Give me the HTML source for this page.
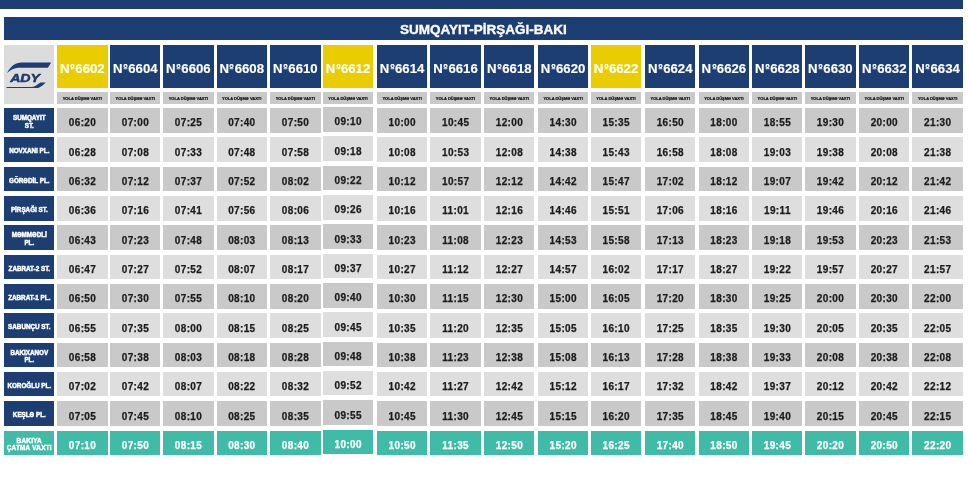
<!DOCTYPE html>
<html><head><meta charset="utf-8">
<style>
html,body{margin:0;padding:0;background:#fff;}
body{will-change:transform;width:969px;height:481px;position:relative;overflow:hidden;font-family:"Liberation Sans",sans-serif;font-weight:bold;}
.c{position:absolute;display:flex;align-items:center;justify-content:center;text-align:center;box-sizing:border-box;white-space:nowrap;}
.hd{color:#fff;font-size:13.2px;letter-spacing:0px;padding-top:4.6px;-webkit-text-stroke:0.15px #fff;}
.no{display:inline-block;position:relative;top:-1.8px;margin:0 0.3px 0 0.4px;}
.sh{background:#c9c9c9;color:#111;font-size:4px;-webkit-text-stroke:0.2px #111;}
.st{background:#1d3e72;color:#fff;font-size:6.3px;line-height:7.8px;letter-spacing:0px;padding-top:3px;-webkit-text-stroke:0.45px #fff;}
.st span{display:inline-block;transform:scaleX(1.0);}
.t{color:#1b1b1b;font-size:10px;letter-spacing:0.35px;text-indent:0.3px;-webkit-text-stroke:0.25px #1b1b1b;}
</style></head><body>

<div class="c" style="left:0;top:0;width:963px;height:8.7px;background:#1d3e72"></div>
<div class="c" style="left:4px;top:17px;width:958.8px;height:23.4px;background:#1d3e72;color:#fff;font-size:13.5px;padding-top:1px;-webkit-text-stroke:0.35px #fff">SUMQAYIT-PİRŞAĞI-BAKI</div>
<div class="c" style="left:4.1px;top:45px;width:50.4px;height:59.2px;background:#dcdcdc"></div>
<svg style="position:absolute;left:0;top:0" width="60" height="110" viewBox="0 0 60 110"><path fill="#1d3e72" d="M7.1 73 C9 69 13 63 21 62.4 L51.2 62.4 L47.9 67.8 L18 67.8 C13 68.5 9 71 7.1 73 Z"/><path fill="#1d3e72" d="M6.6 87.1 L32 87.1 C35 86.7 38 84 40.5 82.4 L45.8 82.4 C43 85 40 88 36 88.1 L6.6 88.1 Z"/><text x="10.2" y="82" font-family="Liberation Sans" font-weight="bold" font-style="italic" font-size="11" textLength="29.8" lengthAdjust="spacingAndGlyphs" fill="#1d3e72" stroke="#1a3060" stroke-width="0.45">ADY</text></svg>
<div class="c hd" style="left:57.2px;top:45px;width:50.4px;height:43.4px;background:#e9cd00">N<svg class="no" width="5" height="6" viewBox="0 0 5 6"><circle cx="2.5" cy="2" r="1.5" fill="none" stroke="#fff" stroke-width="1.25"/><rect x="0.6" y="4.3" width="3.8" height="0.9" fill="#fff"/></svg>6602</div>
<div class="c sh" style="left:57.2px;top:92px;width:50.4px;height:12px">YOLA DÜŞMƏ VAXTI</div>
<div class="c hd" style="left:110.1px;top:45px;width:50.4px;height:43.4px;background:#1d3e72">N<svg class="no" width="5" height="6" viewBox="0 0 5 6"><circle cx="2.5" cy="2" r="1.5" fill="none" stroke="#fff" stroke-width="1.25"/><rect x="0.6" y="4.3" width="3.8" height="0.9" fill="#fff"/></svg>6604</div>
<div class="c sh" style="left:110.1px;top:92px;width:50.4px;height:12px">YOLA DÜŞMƏ VAXTI</div>
<div class="c hd" style="left:163.2px;top:45px;width:50.4px;height:43.4px;background:#1d3e72">N<svg class="no" width="5" height="6" viewBox="0 0 5 6"><circle cx="2.5" cy="2" r="1.5" fill="none" stroke="#fff" stroke-width="1.25"/><rect x="0.6" y="4.3" width="3.8" height="0.9" fill="#fff"/></svg>6606</div>
<div class="c sh" style="left:163.2px;top:92px;width:50.4px;height:12px">YOLA DÜŞMƏ VAXTI</div>
<div class="c hd" style="left:216.5px;top:45px;width:50.4px;height:43.4px;background:#1d3e72">N<svg class="no" width="5" height="6" viewBox="0 0 5 6"><circle cx="2.5" cy="2" r="1.5" fill="none" stroke="#fff" stroke-width="1.25"/><rect x="0.6" y="4.3" width="3.8" height="0.9" fill="#fff"/></svg>6608</div>
<div class="c sh" style="left:216.5px;top:92px;width:50.4px;height:12px">YOLA DÜŞMƏ VAXTI</div>
<div class="c hd" style="left:270.2px;top:45px;width:50.4px;height:43.4px;background:#1d3e72">N<svg class="no" width="5" height="6" viewBox="0 0 5 6"><circle cx="2.5" cy="2" r="1.5" fill="none" stroke="#fff" stroke-width="1.25"/><rect x="0.6" y="4.3" width="3.8" height="0.9" fill="#fff"/></svg>6610</div>
<div class="c sh" style="left:270.2px;top:92px;width:50.4px;height:12px">YOLA DÜŞMƏ VAXTI</div>
<div class="c hd" style="left:322.8px;top:45px;width:50.4px;height:43.4px;background:#e9cd00">N<svg class="no" width="5" height="6" viewBox="0 0 5 6"><circle cx="2.5" cy="2" r="1.5" fill="none" stroke="#fff" stroke-width="1.25"/><rect x="0.6" y="4.3" width="3.8" height="0.9" fill="#fff"/></svg>6612</div>
<div class="c sh" style="left:322.8px;top:92px;width:50.4px;height:12px">YOLA DÜŞMƏ VAXTI</div>
<div class="c hd" style="left:376.9px;top:45px;width:50.4px;height:43.4px;background:#1d3e72">N<svg class="no" width="5" height="6" viewBox="0 0 5 6"><circle cx="2.5" cy="2" r="1.5" fill="none" stroke="#fff" stroke-width="1.25"/><rect x="0.6" y="4.3" width="3.8" height="0.9" fill="#fff"/></svg>6614</div>
<div class="c sh" style="left:376.9px;top:92px;width:50.4px;height:12px">YOLA DÜŞMƏ VAXTI</div>
<div class="c hd" style="left:430.3px;top:45px;width:50.4px;height:43.4px;background:#1d3e72">N<svg class="no" width="5" height="6" viewBox="0 0 5 6"><circle cx="2.5" cy="2" r="1.5" fill="none" stroke="#fff" stroke-width="1.25"/><rect x="0.6" y="4.3" width="3.8" height="0.9" fill="#fff"/></svg>6616</div>
<div class="c sh" style="left:430.3px;top:92px;width:50.4px;height:12px">YOLA DÜŞMƏ VAXTI</div>
<div class="c hd" style="left:484.1px;top:45px;width:50.4px;height:43.4px;background:#1d3e72">N<svg class="no" width="5" height="6" viewBox="0 0 5 6"><circle cx="2.5" cy="2" r="1.5" fill="none" stroke="#fff" stroke-width="1.25"/><rect x="0.6" y="4.3" width="3.8" height="0.9" fill="#fff"/></svg>6618</div>
<div class="c sh" style="left:484.1px;top:92px;width:50.4px;height:12px">YOLA DÜŞMƏ VAXTI</div>
<div class="c hd" style="left:537.9px;top:45px;width:50.4px;height:43.4px;background:#1d3e72">N<svg class="no" width="5" height="6" viewBox="0 0 5 6"><circle cx="2.5" cy="2" r="1.5" fill="none" stroke="#fff" stroke-width="1.25"/><rect x="0.6" y="4.3" width="3.8" height="0.9" fill="#fff"/></svg>6620</div>
<div class="c sh" style="left:537.9px;top:92px;width:50.4px;height:12px">YOLA DÜŞMƏ VAXTI</div>
<div class="c hd" style="left:590.8px;top:45px;width:50.4px;height:43.4px;background:#e9cd00">N<svg class="no" width="5" height="6" viewBox="0 0 5 6"><circle cx="2.5" cy="2" r="1.5" fill="none" stroke="#fff" stroke-width="1.25"/><rect x="0.6" y="4.3" width="3.8" height="0.9" fill="#fff"/></svg>6622</div>
<div class="c sh" style="left:590.8px;top:92px;width:50.4px;height:12px">YOLA DÜŞMƏ VAXTI</div>
<div class="c hd" style="left:645px;top:45px;width:50.4px;height:43.4px;background:#1d3e72">N<svg class="no" width="5" height="6" viewBox="0 0 5 6"><circle cx="2.5" cy="2" r="1.5" fill="none" stroke="#fff" stroke-width="1.25"/><rect x="0.6" y="4.3" width="3.8" height="0.9" fill="#fff"/></svg>6624</div>
<div class="c sh" style="left:645px;top:92px;width:50.4px;height:12px">YOLA DÜŞMƏ VAXTI</div>
<div class="c hd" style="left:698.7px;top:45px;width:50.4px;height:43.4px;background:#1d3e72">N<svg class="no" width="5" height="6" viewBox="0 0 5 6"><circle cx="2.5" cy="2" r="1.5" fill="none" stroke="#fff" stroke-width="1.25"/><rect x="0.6" y="4.3" width="3.8" height="0.9" fill="#fff"/></svg>6626</div>
<div class="c sh" style="left:698.7px;top:92px;width:50.4px;height:12px">YOLA DÜŞMƏ VAXTI</div>
<div class="c hd" style="left:752.1px;top:45px;width:50.4px;height:43.4px;background:#1d3e72">N<svg class="no" width="5" height="6" viewBox="0 0 5 6"><circle cx="2.5" cy="2" r="1.5" fill="none" stroke="#fff" stroke-width="1.25"/><rect x="0.6" y="4.3" width="3.8" height="0.9" fill="#fff"/></svg>6628</div>
<div class="c sh" style="left:752.1px;top:92px;width:50.4px;height:12px">YOLA DÜŞMƏ VAXTI</div>
<div class="c hd" style="left:805.2px;top:45px;width:50.4px;height:43.4px;background:#1d3e72">N<svg class="no" width="5" height="6" viewBox="0 0 5 6"><circle cx="2.5" cy="2" r="1.5" fill="none" stroke="#fff" stroke-width="1.25"/><rect x="0.6" y="4.3" width="3.8" height="0.9" fill="#fff"/></svg>6630</div>
<div class="c sh" style="left:805.2px;top:92px;width:50.4px;height:12px">YOLA DÜŞMƏ VAXTI</div>
<div class="c hd" style="left:859px;top:45px;width:50.4px;height:43.4px;background:#1d3e72">N<svg class="no" width="5" height="6" viewBox="0 0 5 6"><circle cx="2.5" cy="2" r="1.5" fill="none" stroke="#fff" stroke-width="1.25"/><rect x="0.6" y="4.3" width="3.8" height="0.9" fill="#fff"/></svg>6632</div>
<div class="c sh" style="left:859px;top:92px;width:50.4px;height:12px">YOLA DÜŞMƏ VAXTI</div>
<div class="c hd" style="left:912.4px;top:45px;width:50.4px;height:43.4px;background:#1d3e72">N<svg class="no" width="5" height="6" viewBox="0 0 5 6"><circle cx="2.5" cy="2" r="1.5" fill="none" stroke="#fff" stroke-width="1.25"/><rect x="0.6" y="4.3" width="3.8" height="0.9" fill="#fff"/></svg>6634</div>
<div class="c sh" style="left:912.4px;top:92px;width:50.4px;height:12px">YOLA DÜŞMƏ VAXTI</div>
<div class="c st" style="left:4.1px;top:108.1px;width:50.4px;height:24.5px;background:#1d3e72"><span>SUMQAYIT<br>ST.</span></div>
<div class="c t" style="left:57.2px;top:108.1px;width:50.4px;height:24.5px;padding-top:4px;background:#c9c9c9">06:20</div>
<div class="c t" style="left:110.1px;top:108.1px;width:50.4px;height:24.5px;padding-top:4px;background:#c9c9c9">07:00</div>
<div class="c t" style="left:163.2px;top:108.1px;width:50.4px;height:24.5px;padding-top:4px;background:#c9c9c9">07:25</div>
<div class="c t" style="left:216.5px;top:108.1px;width:50.4px;height:24.5px;padding-top:4px;background:#c9c9c9">07:40</div>
<div class="c t" style="left:270.2px;top:108.1px;width:50.4px;height:24.5px;padding-top:4px;background:#c9c9c9">07:50</div>
<div class="c t" style="left:322.8px;top:107.1px;width:50.4px;height:24.5px;padding-top:4px;background:#c9c9c9">09:10</div>
<div class="c t" style="left:376.9px;top:108.1px;width:50.4px;height:24.5px;padding-top:4px;background:#c9c9c9">10:00</div>
<div class="c t" style="left:430.3px;top:108.1px;width:50.4px;height:24.5px;padding-top:4px;background:#c9c9c9">10:45</div>
<div class="c t" style="left:484.1px;top:108.1px;width:50.4px;height:24.5px;padding-top:4px;background:#c9c9c9">12:00</div>
<div class="c t" style="left:537.9px;top:108.1px;width:50.4px;height:24.5px;padding-top:4px;background:#c9c9c9">14:30</div>
<div class="c t" style="left:590.8px;top:108.1px;width:50.4px;height:24.5px;padding-top:4px;background:#c9c9c9">15:35</div>
<div class="c t" style="left:645px;top:108.1px;width:50.4px;height:24.5px;padding-top:4px;background:#c9c9c9">16:50</div>
<div class="c t" style="left:698.7px;top:108.1px;width:50.4px;height:24.5px;padding-top:4px;background:#c9c9c9">18:00</div>
<div class="c t" style="left:752.1px;top:108.1px;width:50.4px;height:24.5px;padding-top:4px;background:#c9c9c9">18:55</div>
<div class="c t" style="left:805.2px;top:108.1px;width:50.4px;height:24.5px;padding-top:4px;background:#c9c9c9">19:30</div>
<div class="c t" style="left:859px;top:108.1px;width:50.4px;height:24.5px;padding-top:4px;background:#c9c9c9">20:00</div>
<div class="c t" style="left:912.4px;top:108.1px;width:50.4px;height:24.5px;padding-top:4px;background:#c9c9c9">21:30</div>
<div class="c st" style="left:4.1px;top:137.42px;width:50.4px;height:24.5px;background:#1d3e72"><span>NOVXANI PL.</span></div>
<div class="c t" style="left:57.2px;top:137.42px;width:50.4px;height:24.5px;padding-top:5px;background:#dedede">06:28</div>
<div class="c t" style="left:110.1px;top:137.42px;width:50.4px;height:24.5px;padding-top:5px;background:#dedede">07:08</div>
<div class="c t" style="left:163.2px;top:137.42px;width:50.4px;height:24.5px;padding-top:5px;background:#dedede">07:33</div>
<div class="c t" style="left:216.5px;top:137.42px;width:50.4px;height:24.5px;padding-top:5px;background:#dedede">07:48</div>
<div class="c t" style="left:270.2px;top:137.42px;width:50.4px;height:24.5px;padding-top:5px;background:#dedede">07:58</div>
<div class="c t" style="left:322.8px;top:136.42px;width:50.4px;height:24.5px;padding-top:5px;background:#dedede">09:18</div>
<div class="c t" style="left:376.9px;top:137.42px;width:50.4px;height:24.5px;padding-top:5px;background:#dedede">10:08</div>
<div class="c t" style="left:430.3px;top:137.42px;width:50.4px;height:24.5px;padding-top:5px;background:#dedede">10:53</div>
<div class="c t" style="left:484.1px;top:137.42px;width:50.4px;height:24.5px;padding-top:5px;background:#dedede">12:08</div>
<div class="c t" style="left:537.9px;top:137.42px;width:50.4px;height:24.5px;padding-top:5px;background:#dedede">14:38</div>
<div class="c t" style="left:590.8px;top:137.42px;width:50.4px;height:24.5px;padding-top:5px;background:#dedede">15:43</div>
<div class="c t" style="left:645px;top:137.42px;width:50.4px;height:24.5px;padding-top:5px;background:#dedede">16:58</div>
<div class="c t" style="left:698.7px;top:137.42px;width:50.4px;height:24.5px;padding-top:5px;background:#dedede">18:08</div>
<div class="c t" style="left:752.1px;top:137.42px;width:50.4px;height:24.5px;padding-top:5px;background:#dedede">19:03</div>
<div class="c t" style="left:805.2px;top:137.42px;width:50.4px;height:24.5px;padding-top:5px;background:#dedede">19:38</div>
<div class="c t" style="left:859px;top:137.42px;width:50.4px;height:24.5px;padding-top:5px;background:#dedede">20:08</div>
<div class="c t" style="left:912.4px;top:137.42px;width:50.4px;height:24.5px;padding-top:5px;background:#dedede">21:38</div>
<div class="c st" style="left:4.1px;top:166.74px;width:50.4px;height:24.5px;background:#1d3e72"><span>GÖRƏDİL PL.</span></div>
<div class="c t" style="left:57.2px;top:166.74px;width:50.4px;height:24.5px;padding-top:5px;background:#c9c9c9">06:32</div>
<div class="c t" style="left:110.1px;top:166.74px;width:50.4px;height:24.5px;padding-top:5px;background:#c9c9c9">07:12</div>
<div class="c t" style="left:163.2px;top:166.74px;width:50.4px;height:24.5px;padding-top:5px;background:#c9c9c9">07:37</div>
<div class="c t" style="left:216.5px;top:166.74px;width:50.4px;height:24.5px;padding-top:5px;background:#c9c9c9">07:52</div>
<div class="c t" style="left:270.2px;top:166.74px;width:50.4px;height:24.5px;padding-top:5px;background:#c9c9c9">08:02</div>
<div class="c t" style="left:322.8px;top:165.74px;width:50.4px;height:24.5px;padding-top:5px;background:#c9c9c9">09:22</div>
<div class="c t" style="left:376.9px;top:166.74px;width:50.4px;height:24.5px;padding-top:5px;background:#c9c9c9">10:12</div>
<div class="c t" style="left:430.3px;top:166.74px;width:50.4px;height:24.5px;padding-top:5px;background:#c9c9c9">10:57</div>
<div class="c t" style="left:484.1px;top:166.74px;width:50.4px;height:24.5px;padding-top:5px;background:#c9c9c9">12:12</div>
<div class="c t" style="left:537.9px;top:166.74px;width:50.4px;height:24.5px;padding-top:5px;background:#c9c9c9">14:42</div>
<div class="c t" style="left:590.8px;top:166.74px;width:50.4px;height:24.5px;padding-top:5px;background:#c9c9c9">15:47</div>
<div class="c t" style="left:645px;top:166.74px;width:50.4px;height:24.5px;padding-top:5px;background:#c9c9c9">17:02</div>
<div class="c t" style="left:698.7px;top:166.74px;width:50.4px;height:24.5px;padding-top:5px;background:#c9c9c9">18:12</div>
<div class="c t" style="left:752.1px;top:166.74px;width:50.4px;height:24.5px;padding-top:5px;background:#c9c9c9">19:07</div>
<div class="c t" style="left:805.2px;top:166.74px;width:50.4px;height:24.5px;padding-top:5px;background:#c9c9c9">19:42</div>
<div class="c t" style="left:859px;top:166.74px;width:50.4px;height:24.5px;padding-top:5px;background:#c9c9c9">20:12</div>
<div class="c t" style="left:912.4px;top:166.74px;width:50.4px;height:24.5px;padding-top:5px;background:#c9c9c9">21:42</div>
<div class="c st" style="left:4.1px;top:196.06px;width:50.4px;height:24.5px;background:#1d3e72"><span>PİRŞAĞI ST.</span></div>
<div class="c t" style="left:57.2px;top:196.06px;width:50.4px;height:24.5px;padding-top:5px;background:#dedede">06:36</div>
<div class="c t" style="left:110.1px;top:196.06px;width:50.4px;height:24.5px;padding-top:5px;background:#dedede">07:16</div>
<div class="c t" style="left:163.2px;top:196.06px;width:50.4px;height:24.5px;padding-top:5px;background:#dedede">07:41</div>
<div class="c t" style="left:216.5px;top:196.06px;width:50.4px;height:24.5px;padding-top:5px;background:#dedede">07:56</div>
<div class="c t" style="left:270.2px;top:196.06px;width:50.4px;height:24.5px;padding-top:5px;background:#dedede">08:06</div>
<div class="c t" style="left:322.8px;top:195.06px;width:50.4px;height:24.5px;padding-top:5px;background:#dedede">09:26</div>
<div class="c t" style="left:376.9px;top:196.06px;width:50.4px;height:24.5px;padding-top:5px;background:#dedede">10:16</div>
<div class="c t" style="left:430.3px;top:196.06px;width:50.4px;height:24.5px;padding-top:5px;background:#dedede">11:01</div>
<div class="c t" style="left:484.1px;top:196.06px;width:50.4px;height:24.5px;padding-top:5px;background:#dedede">12:16</div>
<div class="c t" style="left:537.9px;top:196.06px;width:50.4px;height:24.5px;padding-top:5px;background:#dedede">14:46</div>
<div class="c t" style="left:590.8px;top:196.06px;width:50.4px;height:24.5px;padding-top:5px;background:#dedede">15:51</div>
<div class="c t" style="left:645px;top:196.06px;width:50.4px;height:24.5px;padding-top:5px;background:#dedede">17:06</div>
<div class="c t" style="left:698.7px;top:196.06px;width:50.4px;height:24.5px;padding-top:5px;background:#dedede">18:16</div>
<div class="c t" style="left:752.1px;top:196.06px;width:50.4px;height:24.5px;padding-top:5px;background:#dedede">19:11</div>
<div class="c t" style="left:805.2px;top:196.06px;width:50.4px;height:24.5px;padding-top:5px;background:#dedede">19:46</div>
<div class="c t" style="left:859px;top:196.06px;width:50.4px;height:24.5px;padding-top:5px;background:#dedede">20:16</div>
<div class="c t" style="left:912.4px;top:196.06px;width:50.4px;height:24.5px;padding-top:5px;background:#dedede">21:46</div>
<div class="c st" style="left:4.1px;top:225.38px;width:50.4px;height:24.5px;background:#1d3e72"><span>MƏMMƏDLİ<br>PL.</span></div>
<div class="c t" style="left:57.2px;top:225.38px;width:50.4px;height:24.5px;padding-top:5px;background:#c9c9c9">06:43</div>
<div class="c t" style="left:110.1px;top:225.38px;width:50.4px;height:24.5px;padding-top:5px;background:#c9c9c9">07:23</div>
<div class="c t" style="left:163.2px;top:225.38px;width:50.4px;height:24.5px;padding-top:5px;background:#c9c9c9">07:48</div>
<div class="c t" style="left:216.5px;top:225.38px;width:50.4px;height:24.5px;padding-top:5px;background:#c9c9c9">08:03</div>
<div class="c t" style="left:270.2px;top:225.38px;width:50.4px;height:24.5px;padding-top:5px;background:#c9c9c9">08:13</div>
<div class="c t" style="left:322.8px;top:224.38px;width:50.4px;height:24.5px;padding-top:5px;background:#c9c9c9">09:33</div>
<div class="c t" style="left:376.9px;top:225.38px;width:50.4px;height:24.5px;padding-top:5px;background:#c9c9c9">10:23</div>
<div class="c t" style="left:430.3px;top:225.38px;width:50.4px;height:24.5px;padding-top:5px;background:#c9c9c9">11:08</div>
<div class="c t" style="left:484.1px;top:225.38px;width:50.4px;height:24.5px;padding-top:5px;background:#c9c9c9">12:23</div>
<div class="c t" style="left:537.9px;top:225.38px;width:50.4px;height:24.5px;padding-top:5px;background:#c9c9c9">14:53</div>
<div class="c t" style="left:590.8px;top:225.38px;width:50.4px;height:24.5px;padding-top:5px;background:#c9c9c9">15:58</div>
<div class="c t" style="left:645px;top:225.38px;width:50.4px;height:24.5px;padding-top:5px;background:#c9c9c9">17:13</div>
<div class="c t" style="left:698.7px;top:225.38px;width:50.4px;height:24.5px;padding-top:5px;background:#c9c9c9">18:23</div>
<div class="c t" style="left:752.1px;top:225.38px;width:50.4px;height:24.5px;padding-top:5px;background:#c9c9c9">19:18</div>
<div class="c t" style="left:805.2px;top:225.38px;width:50.4px;height:24.5px;padding-top:5px;background:#c9c9c9">19:53</div>
<div class="c t" style="left:859px;top:225.38px;width:50.4px;height:24.5px;padding-top:5px;background:#c9c9c9">20:23</div>
<div class="c t" style="left:912.4px;top:225.38px;width:50.4px;height:24.5px;padding-top:5px;background:#c9c9c9">21:53</div>
<div class="c st" style="left:4.1px;top:254.7px;width:50.4px;height:24.5px;background:#1d3e72"><span>ZABRAT-2 ST.</span></div>
<div class="c t" style="left:57.2px;top:254.7px;width:50.4px;height:24.5px;padding-top:5px;background:#dedede">06:47</div>
<div class="c t" style="left:110.1px;top:254.7px;width:50.4px;height:24.5px;padding-top:5px;background:#dedede">07:27</div>
<div class="c t" style="left:163.2px;top:254.7px;width:50.4px;height:24.5px;padding-top:5px;background:#dedede">07:52</div>
<div class="c t" style="left:216.5px;top:254.7px;width:50.4px;height:24.5px;padding-top:5px;background:#dedede">08:07</div>
<div class="c t" style="left:270.2px;top:254.7px;width:50.4px;height:24.5px;padding-top:5px;background:#dedede">08:17</div>
<div class="c t" style="left:322.8px;top:253.7px;width:50.4px;height:24.5px;padding-top:5px;background:#dedede">09:37</div>
<div class="c t" style="left:376.9px;top:254.7px;width:50.4px;height:24.5px;padding-top:5px;background:#dedede">10:27</div>
<div class="c t" style="left:430.3px;top:254.7px;width:50.4px;height:24.5px;padding-top:5px;background:#dedede">11:12</div>
<div class="c t" style="left:484.1px;top:254.7px;width:50.4px;height:24.5px;padding-top:5px;background:#dedede">12:27</div>
<div class="c t" style="left:537.9px;top:254.7px;width:50.4px;height:24.5px;padding-top:5px;background:#dedede">14:57</div>
<div class="c t" style="left:590.8px;top:254.7px;width:50.4px;height:24.5px;padding-top:5px;background:#dedede">16:02</div>
<div class="c t" style="left:645px;top:254.7px;width:50.4px;height:24.5px;padding-top:5px;background:#dedede">17:17</div>
<div class="c t" style="left:698.7px;top:254.7px;width:50.4px;height:24.5px;padding-top:5px;background:#dedede">18:27</div>
<div class="c t" style="left:752.1px;top:254.7px;width:50.4px;height:24.5px;padding-top:5px;background:#dedede">19:22</div>
<div class="c t" style="left:805.2px;top:254.7px;width:50.4px;height:24.5px;padding-top:5px;background:#dedede">19:57</div>
<div class="c t" style="left:859px;top:254.7px;width:50.4px;height:24.5px;padding-top:5px;background:#dedede">20:27</div>
<div class="c t" style="left:912.4px;top:254.7px;width:50.4px;height:24.5px;padding-top:5px;background:#dedede">21:57</div>
<div class="c st" style="left:4.1px;top:284.02px;width:50.4px;height:24.5px;background:#1d3e72"><span>ZABRAT-1 PL.</span></div>
<div class="c t" style="left:57.2px;top:284.02px;width:50.4px;height:24.5px;padding-top:5px;background:#c9c9c9">06:50</div>
<div class="c t" style="left:110.1px;top:284.02px;width:50.4px;height:24.5px;padding-top:5px;background:#c9c9c9">07:30</div>
<div class="c t" style="left:163.2px;top:284.02px;width:50.4px;height:24.5px;padding-top:5px;background:#c9c9c9">07:55</div>
<div class="c t" style="left:216.5px;top:284.02px;width:50.4px;height:24.5px;padding-top:5px;background:#c9c9c9">08:10</div>
<div class="c t" style="left:270.2px;top:284.02px;width:50.4px;height:24.5px;padding-top:5px;background:#c9c9c9">08:20</div>
<div class="c t" style="left:322.8px;top:283.02px;width:50.4px;height:24.5px;padding-top:5px;background:#c9c9c9">09:40</div>
<div class="c t" style="left:376.9px;top:284.02px;width:50.4px;height:24.5px;padding-top:5px;background:#c9c9c9">10:30</div>
<div class="c t" style="left:430.3px;top:284.02px;width:50.4px;height:24.5px;padding-top:5px;background:#c9c9c9">11:15</div>
<div class="c t" style="left:484.1px;top:284.02px;width:50.4px;height:24.5px;padding-top:5px;background:#c9c9c9">12:30</div>
<div class="c t" style="left:537.9px;top:284.02px;width:50.4px;height:24.5px;padding-top:5px;background:#c9c9c9">15:00</div>
<div class="c t" style="left:590.8px;top:284.02px;width:50.4px;height:24.5px;padding-top:5px;background:#c9c9c9">16:05</div>
<div class="c t" style="left:645px;top:284.02px;width:50.4px;height:24.5px;padding-top:5px;background:#c9c9c9">17:20</div>
<div class="c t" style="left:698.7px;top:284.02px;width:50.4px;height:24.5px;padding-top:5px;background:#c9c9c9">18:30</div>
<div class="c t" style="left:752.1px;top:284.02px;width:50.4px;height:24.5px;padding-top:5px;background:#c9c9c9">19:25</div>
<div class="c t" style="left:805.2px;top:284.02px;width:50.4px;height:24.5px;padding-top:5px;background:#c9c9c9">20:00</div>
<div class="c t" style="left:859px;top:284.02px;width:50.4px;height:24.5px;padding-top:5px;background:#c9c9c9">20:30</div>
<div class="c t" style="left:912.4px;top:284.02px;width:50.4px;height:24.5px;padding-top:5px;background:#c9c9c9">22:00</div>
<div class="c st" style="left:4.1px;top:313.34px;width:50.4px;height:24.5px;background:#1d3e72"><span>SABUNÇU ST.</span></div>
<div class="c t" style="left:57.2px;top:313.34px;width:50.4px;height:24.5px;padding-top:5px;background:#dedede">06:55</div>
<div class="c t" style="left:110.1px;top:313.34px;width:50.4px;height:24.5px;padding-top:5px;background:#dedede">07:35</div>
<div class="c t" style="left:163.2px;top:313.34px;width:50.4px;height:24.5px;padding-top:5px;background:#dedede">08:00</div>
<div class="c t" style="left:216.5px;top:313.34px;width:50.4px;height:24.5px;padding-top:5px;background:#dedede">08:15</div>
<div class="c t" style="left:270.2px;top:313.34px;width:50.4px;height:24.5px;padding-top:5px;background:#dedede">08:25</div>
<div class="c t" style="left:322.8px;top:312.34px;width:50.4px;height:24.5px;padding-top:5px;background:#dedede">09:45</div>
<div class="c t" style="left:376.9px;top:313.34px;width:50.4px;height:24.5px;padding-top:5px;background:#dedede">10:35</div>
<div class="c t" style="left:430.3px;top:313.34px;width:50.4px;height:24.5px;padding-top:5px;background:#dedede">11:20</div>
<div class="c t" style="left:484.1px;top:313.34px;width:50.4px;height:24.5px;padding-top:5px;background:#dedede">12:35</div>
<div class="c t" style="left:537.9px;top:313.34px;width:50.4px;height:24.5px;padding-top:5px;background:#dedede">15:05</div>
<div class="c t" style="left:590.8px;top:313.34px;width:50.4px;height:24.5px;padding-top:5px;background:#dedede">16:10</div>
<div class="c t" style="left:645px;top:313.34px;width:50.4px;height:24.5px;padding-top:5px;background:#dedede">17:25</div>
<div class="c t" style="left:698.7px;top:313.34px;width:50.4px;height:24.5px;padding-top:5px;background:#dedede">18:35</div>
<div class="c t" style="left:752.1px;top:313.34px;width:50.4px;height:24.5px;padding-top:5px;background:#dedede">19:30</div>
<div class="c t" style="left:805.2px;top:313.34px;width:50.4px;height:24.5px;padding-top:5px;background:#dedede">20:05</div>
<div class="c t" style="left:859px;top:313.34px;width:50.4px;height:24.5px;padding-top:5px;background:#dedede">20:35</div>
<div class="c t" style="left:912.4px;top:313.34px;width:50.4px;height:24.5px;padding-top:5px;background:#dedede">22:05</div>
<div class="c st" style="left:4.1px;top:342.66px;width:50.4px;height:24.5px;background:#1d3e72"><span>BAKIXANOV<br>PL.</span></div>
<div class="c t" style="left:57.2px;top:342.66px;width:50.4px;height:24.5px;padding-top:5px;background:#c9c9c9">06:58</div>
<div class="c t" style="left:110.1px;top:342.66px;width:50.4px;height:24.5px;padding-top:5px;background:#c9c9c9">07:38</div>
<div class="c t" style="left:163.2px;top:342.66px;width:50.4px;height:24.5px;padding-top:5px;background:#c9c9c9">08:03</div>
<div class="c t" style="left:216.5px;top:342.66px;width:50.4px;height:24.5px;padding-top:5px;background:#c9c9c9">08:18</div>
<div class="c t" style="left:270.2px;top:342.66px;width:50.4px;height:24.5px;padding-top:5px;background:#c9c9c9">08:28</div>
<div class="c t" style="left:322.8px;top:341.66px;width:50.4px;height:24.5px;padding-top:5px;background:#c9c9c9">09:48</div>
<div class="c t" style="left:376.9px;top:342.66px;width:50.4px;height:24.5px;padding-top:5px;background:#c9c9c9">10:38</div>
<div class="c t" style="left:430.3px;top:342.66px;width:50.4px;height:24.5px;padding-top:5px;background:#c9c9c9">11:23</div>
<div class="c t" style="left:484.1px;top:342.66px;width:50.4px;height:24.5px;padding-top:5px;background:#c9c9c9">12:38</div>
<div class="c t" style="left:537.9px;top:342.66px;width:50.4px;height:24.5px;padding-top:5px;background:#c9c9c9">15:08</div>
<div class="c t" style="left:590.8px;top:342.66px;width:50.4px;height:24.5px;padding-top:5px;background:#c9c9c9">16:13</div>
<div class="c t" style="left:645px;top:342.66px;width:50.4px;height:24.5px;padding-top:5px;background:#c9c9c9">17:28</div>
<div class="c t" style="left:698.7px;top:342.66px;width:50.4px;height:24.5px;padding-top:5px;background:#c9c9c9">18:38</div>
<div class="c t" style="left:752.1px;top:342.66px;width:50.4px;height:24.5px;padding-top:5px;background:#c9c9c9">19:33</div>
<div class="c t" style="left:805.2px;top:342.66px;width:50.4px;height:24.5px;padding-top:5px;background:#c9c9c9">20:08</div>
<div class="c t" style="left:859px;top:342.66px;width:50.4px;height:24.5px;padding-top:5px;background:#c9c9c9">20:38</div>
<div class="c t" style="left:912.4px;top:342.66px;width:50.4px;height:24.5px;padding-top:5px;background:#c9c9c9">22:08</div>
<div class="c st" style="left:4.1px;top:371.98px;width:50.4px;height:24.5px;background:#1d3e72"><span>KOROĞLU PL.</span></div>
<div class="c t" style="left:57.2px;top:371.98px;width:50.4px;height:24.5px;padding-top:5px;background:#dedede">07:02</div>
<div class="c t" style="left:110.1px;top:371.98px;width:50.4px;height:24.5px;padding-top:5px;background:#dedede">07:42</div>
<div class="c t" style="left:163.2px;top:371.98px;width:50.4px;height:24.5px;padding-top:5px;background:#dedede">08:07</div>
<div class="c t" style="left:216.5px;top:371.98px;width:50.4px;height:24.5px;padding-top:5px;background:#dedede">08:22</div>
<div class="c t" style="left:270.2px;top:371.98px;width:50.4px;height:24.5px;padding-top:5px;background:#dedede">08:32</div>
<div class="c t" style="left:322.8px;top:370.98px;width:50.4px;height:24.5px;padding-top:5px;background:#dedede">09:52</div>
<div class="c t" style="left:376.9px;top:371.98px;width:50.4px;height:24.5px;padding-top:5px;background:#dedede">10:42</div>
<div class="c t" style="left:430.3px;top:371.98px;width:50.4px;height:24.5px;padding-top:5px;background:#dedede">11:27</div>
<div class="c t" style="left:484.1px;top:371.98px;width:50.4px;height:24.5px;padding-top:5px;background:#dedede">12:42</div>
<div class="c t" style="left:537.9px;top:371.98px;width:50.4px;height:24.5px;padding-top:5px;background:#dedede">15:12</div>
<div class="c t" style="left:590.8px;top:371.98px;width:50.4px;height:24.5px;padding-top:5px;background:#dedede">16:17</div>
<div class="c t" style="left:645px;top:371.98px;width:50.4px;height:24.5px;padding-top:5px;background:#dedede">17:32</div>
<div class="c t" style="left:698.7px;top:371.98px;width:50.4px;height:24.5px;padding-top:5px;background:#dedede">18:42</div>
<div class="c t" style="left:752.1px;top:371.98px;width:50.4px;height:24.5px;padding-top:5px;background:#dedede">19:37</div>
<div class="c t" style="left:805.2px;top:371.98px;width:50.4px;height:24.5px;padding-top:5px;background:#dedede">20:12</div>
<div class="c t" style="left:859px;top:371.98px;width:50.4px;height:24.5px;padding-top:5px;background:#dedede">20:42</div>
<div class="c t" style="left:912.4px;top:371.98px;width:50.4px;height:24.5px;padding-top:5px;background:#dedede">22:12</div>
<div class="c st" style="left:4.1px;top:401.3px;width:50.4px;height:24.5px;background:#1d3e72"><span>KEŞLƏ PL.</span></div>
<div class="c t" style="left:57.2px;top:401.3px;width:50.4px;height:24.5px;padding-top:5px;background:#c9c9c9">07:05</div>
<div class="c t" style="left:110.1px;top:401.3px;width:50.4px;height:24.5px;padding-top:5px;background:#c9c9c9">07:45</div>
<div class="c t" style="left:163.2px;top:401.3px;width:50.4px;height:24.5px;padding-top:5px;background:#c9c9c9">08:10</div>
<div class="c t" style="left:216.5px;top:401.3px;width:50.4px;height:24.5px;padding-top:5px;background:#c9c9c9">08:25</div>
<div class="c t" style="left:270.2px;top:401.3px;width:50.4px;height:24.5px;padding-top:5px;background:#c9c9c9">08:35</div>
<div class="c t" style="left:322.8px;top:400.3px;width:50.4px;height:24.5px;padding-top:5px;background:#c9c9c9">09:55</div>
<div class="c t" style="left:376.9px;top:401.3px;width:50.4px;height:24.5px;padding-top:5px;background:#c9c9c9">10:45</div>
<div class="c t" style="left:430.3px;top:401.3px;width:50.4px;height:24.5px;padding-top:5px;background:#c9c9c9">11:30</div>
<div class="c t" style="left:484.1px;top:401.3px;width:50.4px;height:24.5px;padding-top:5px;background:#c9c9c9">12:45</div>
<div class="c t" style="left:537.9px;top:401.3px;width:50.4px;height:24.5px;padding-top:5px;background:#c9c9c9">15:15</div>
<div class="c t" style="left:590.8px;top:401.3px;width:50.4px;height:24.5px;padding-top:5px;background:#c9c9c9">16:20</div>
<div class="c t" style="left:645px;top:401.3px;width:50.4px;height:24.5px;padding-top:5px;background:#c9c9c9">17:35</div>
<div class="c t" style="left:698.7px;top:401.3px;width:50.4px;height:24.5px;padding-top:5px;background:#c9c9c9">18:45</div>
<div class="c t" style="left:752.1px;top:401.3px;width:50.4px;height:24.5px;padding-top:5px;background:#c9c9c9">19:40</div>
<div class="c t" style="left:805.2px;top:401.3px;width:50.4px;height:24.5px;padding-top:5px;background:#c9c9c9">20:15</div>
<div class="c t" style="left:859px;top:401.3px;width:50.4px;height:24.5px;padding-top:5px;background:#c9c9c9">20:45</div>
<div class="c t" style="left:912.4px;top:401.3px;width:50.4px;height:24.5px;padding-top:5px;background:#c9c9c9">22:15</div>
<div class="c st" style="left:4.1px;top:430.62px;width:50.4px;height:24.5px;background:#40bba7;letter-spacing:0.3px"><span>BAKIYA<br>ÇATMA VAXTI</span></div>
<div class="c t" style="left:57.2px;top:430.62px;width:50.4px;height:24.5px;padding-top:5px;background:#40bba7;color:#fff;-webkit-text-stroke-color:#fff">07:10</div>
<div class="c t" style="left:110.1px;top:430.62px;width:50.4px;height:24.5px;padding-top:5px;background:#40bba7;color:#fff;-webkit-text-stroke-color:#fff">07:50</div>
<div class="c t" style="left:163.2px;top:430.62px;width:50.4px;height:24.5px;padding-top:5px;background:#40bba7;color:#fff;-webkit-text-stroke-color:#fff">08:15</div>
<div class="c t" style="left:216.5px;top:430.62px;width:50.4px;height:24.5px;padding-top:5px;background:#40bba7;color:#fff;-webkit-text-stroke-color:#fff">08:30</div>
<div class="c t" style="left:270.2px;top:430.62px;width:50.4px;height:24.5px;padding-top:5px;background:#40bba7;color:#fff;-webkit-text-stroke-color:#fff">08:40</div>
<div class="c t" style="left:322.8px;top:429.62px;width:50.4px;height:24.5px;padding-top:5px;background:#40bba7;color:#fff;-webkit-text-stroke-color:#fff">10:00</div>
<div class="c t" style="left:376.9px;top:430.62px;width:50.4px;height:24.5px;padding-top:5px;background:#40bba7;color:#fff;-webkit-text-stroke-color:#fff">10:50</div>
<div class="c t" style="left:430.3px;top:430.62px;width:50.4px;height:24.5px;padding-top:5px;background:#40bba7;color:#fff;-webkit-text-stroke-color:#fff">11:35</div>
<div class="c t" style="left:484.1px;top:430.62px;width:50.4px;height:24.5px;padding-top:5px;background:#40bba7;color:#fff;-webkit-text-stroke-color:#fff">12:50</div>
<div class="c t" style="left:537.9px;top:430.62px;width:50.4px;height:24.5px;padding-top:5px;background:#40bba7;color:#fff;-webkit-text-stroke-color:#fff">15:20</div>
<div class="c t" style="left:590.8px;top:430.62px;width:50.4px;height:24.5px;padding-top:5px;background:#40bba7;color:#fff;-webkit-text-stroke-color:#fff">16:25</div>
<div class="c t" style="left:645px;top:430.62px;width:50.4px;height:24.5px;padding-top:5px;background:#40bba7;color:#fff;-webkit-text-stroke-color:#fff">17:40</div>
<div class="c t" style="left:698.7px;top:430.62px;width:50.4px;height:24.5px;padding-top:5px;background:#40bba7;color:#fff;-webkit-text-stroke-color:#fff">18:50</div>
<div class="c t" style="left:752.1px;top:430.62px;width:50.4px;height:24.5px;padding-top:5px;background:#40bba7;color:#fff;-webkit-text-stroke-color:#fff">19:45</div>
<div class="c t" style="left:805.2px;top:430.62px;width:50.4px;height:24.5px;padding-top:5px;background:#40bba7;color:#fff;-webkit-text-stroke-color:#fff">20:20</div>
<div class="c t" style="left:859px;top:430.62px;width:50.4px;height:24.5px;padding-top:5px;background:#40bba7;color:#fff;-webkit-text-stroke-color:#fff">20:50</div>
<div class="c t" style="left:912.4px;top:430.62px;width:50.4px;height:24.5px;padding-top:5px;background:#40bba7;color:#fff;-webkit-text-stroke-color:#fff">22:20</div>
</body></html>
